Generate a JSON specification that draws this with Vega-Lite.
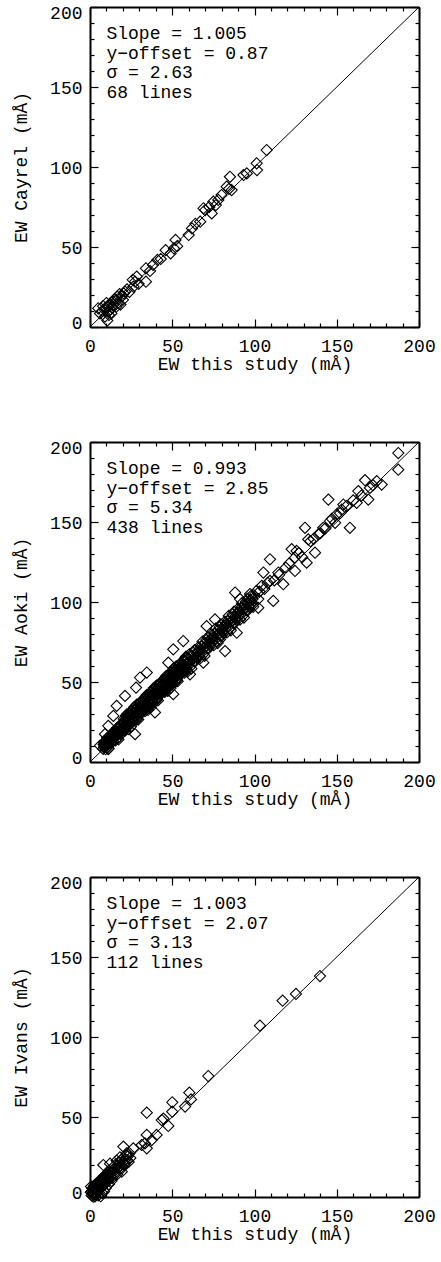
{
"$schema": "https://vega.github.io/schema/vega-lite/v6.json",
"background": "white",
"padding": {"left": 12, "top": 3, "right": 0, "bottom": 0},
"spacing": 115,
"bounds": "flush",
"datasets": {
"cayrel": [
{"x":107.4,"y":110.6},{"x":101.3,"y":102.3},{"x":101.5,"y":98.1},{"x":95.3,"y":96.0},{"x":93.3,"y":95.0},{"x":85.1,"y":93.9},{"x":86.1,"y":85.6},{"x":83.1,"y":87.7},{"x":84.5,"y":86.3},{"x":80.0,"y":82.5},
{"x":78.0,"y":79.4},{"x":75.0,"y":78.3},{"x":76.5,"y":76.2},{"x":70.0,"y":73.1},{"x":69.0,"y":74.2},{"x":74.0,"y":71.0},{"x":72.5,"y":75.0},{"x":67.0,"y":65.8},{"x":62.0,"y":61.6},{"x":60.0,"y":57.5},
{"x":52.0,"y":54.4},{"x":51.0,"y":49.2},{"x":49.0,"y":46.0},{"x":46.0,"y":48.0},{"x":53.0,"y":50.5},{"x":41.0,"y":41.9},{"x":38.3,"y":38.8},{"x":34.0,"y":36.7},{"x":34.0,"y":28.3},{"x":28.4,"y":31.5},
{"x":27.4,"y":28.3},{"x":26.4,"y":25.2},{"x":29.5,"y":27.0},{"x":21.3,"y":22.1},{"x":19.3,"y":19.0},{"x":16.2,"y":16.9},{"x":14.2,"y":13.8},{"x":11.2,"y":12.7},{"x":9.1,"y":10.6},{"x":6.1,"y":8.5},
{"x":5.0,"y":11.7},{"x":9.1,"y":6.5},{"x":10.0,"y":15.0},{"x":17.0,"y":15.0},{"x":16.0,"y":12.7},{"x":13.0,"y":8.5},{"x":8.0,"y":13.0},{"x":11.0,"y":9.5},{"x":12.5,"y":11.0},{"x":15.0,"y":17.5},
{"x":18.0,"y":20.5},{"x":20.0,"y":17.0},{"x":22.5,"y":23.5},{"x":18.5,"y":14.0},{"x":14.0,"y":16.0},{"x":10.5,"y":4.0},{"x":7.5,"y":10.0},{"x":12.0,"y":14.5},{"x":24.0,"y":22.0},{"x":26.0,"y":29.5},
{"x":20.5,"y":21.0},{"x":16.5,"y":19.0},{"x":9.5,"y":12.0},{"x":11.5,"y":7.5},{"x":13.5,"y":12.0},{"x":43.0,"y":42.5},{"x":36.5,"y":35.0},{"x":64.0,"y":64.5}
],
"aoki": [
{"x":8.0,"y":8.2},{"x":8.3,"y":11.0},{"x":8.6,"y":12.4},{"x":8.9,"y":9.6},{"x":9.2,"y":11.2},{"x":9.5,"y":8.0},{"x":9.8,"y":13.1},{"x":10.1,"y":10.4},{"x":10.4,"y":15.0},{"x":10.7,"y":9.5},
{"x":11.0,"y":12.6},{"x":11.3,"y":8.4},{"x":11.6,"y":14.4},{"x":11.9,"y":12.7},{"x":12.2,"y":16.1},{"x":12.5,"y":11.7},{"x":12.8,"y":17.0},{"x":13.1,"y":12.1},{"x":13.4,"y":15.0},{"x":13.7,"y":14.2},
{"x":14.0,"y":13.0},{"x":14.3,"y":17.1},{"x":14.6,"y":19.0},{"x":14.9,"y":15.5},{"x":15.2,"y":17.3},{"x":15.5,"y":13.5},{"x":15.8,"y":19.4},{"x":16.1,"y":16.2},{"x":16.4,"y":21.1},{"x":16.7,"y":14.9},
{"x":17.0,"y":18.4},{"x":17.3,"y":14.1},{"x":17.6,"y":20.9},{"x":17.9,"y":18.6},{"x":18.2,"y":22.0},{"x":18.5,"y":17.9},{"x":18.8,"y":23.6},{"x":19.1,"y":17.6},{"x":19.4,"y":21.2},{"x":19.7,"y":20.3},
{"x":9.0,"y":10.5},{"x":10.0,"y":11.8},{"x":11.0,"y":11.0},{"x":12.0,"y":13.5},{"x":13.0,"y":14.4},{"x":14.0,"y":15.8},{"x":15.0,"y":16.0},{"x":16.0,"y":18.5},{"x":17.0,"y":17.6},{"x":18.0,"y":19.8},
{"x":19.0,"y":20.4},{"x":20.0,"y":21.7},{"x":8.5,"y":9.3},{"x":10.5,"y":12.2},{"x":12.5,"y":14.0},{"x":14.5,"y":16.6},{"x":16.5,"y":17.2},{"x":18.5,"y":20.1},{"x":9.4,"y":12.9},{"x":11.4,"y":13.6},
{"x":20.0,"y":20.0},{"x":20.3,"y":24.5},{"x":20.6,"y":26.9},{"x":20.9,"y":22.7},{"x":21.2,"y":24.7},{"x":21.5,"y":19.8},{"x":21.8,"y":26.9},{"x":22.1,"y":23.0},{"x":22.4,"y":29.8},{"x":22.7,"y":21.8},
{"x":23.0,"y":25.7},{"x":23.3,"y":20.5},{"x":23.6,"y":28.4},{"x":23.9,"y":25.9},{"x":24.2,"y":30.2},{"x":24.5,"y":24.8},{"x":24.8,"y":31.7},{"x":25.1,"y":24.5},{"x":25.4,"y":28.6},{"x":25.7,"y":27.0},
{"x":26.0,"y":26.0},{"x":26.3,"y":30.5},{"x":26.6,"y":32.9},{"x":26.9,"y":28.7},{"x":27.2,"y":30.7},{"x":27.5,"y":25.8},{"x":27.8,"y":32.9},{"x":28.1,"y":29.0},{"x":28.4,"y":35.8},{"x":28.7,"y":27.8},
{"x":29.0,"y":31.7},{"x":29.3,"y":26.5},{"x":29.6,"y":34.4},{"x":29.9,"y":31.9},{"x":30.2,"y":36.2},{"x":30.5,"y":30.8},{"x":30.8,"y":37.7},{"x":31.1,"y":30.5},{"x":31.4,"y":34.6},{"x":31.7,"y":33.0},
{"x":32.0,"y":32.0},{"x":32.3,"y":36.5},{"x":32.6,"y":38.9},{"x":32.9,"y":34.7},{"x":33.2,"y":36.7},{"x":33.5,"y":31.8},{"x":33.8,"y":38.9},{"x":34.1,"y":35.0},{"x":34.4,"y":41.8},{"x":34.7,"y":33.8},
{"x":35.0,"y":37.7},{"x":35.3,"y":32.5},{"x":35.6,"y":40.4},{"x":35.9,"y":37.9},{"x":36.2,"y":42.2},{"x":36.5,"y":36.8},{"x":36.8,"y":43.7},{"x":37.1,"y":36.5},{"x":37.4,"y":40.6},{"x":37.7,"y":39.0},
{"x":38.0,"y":38.0},{"x":38.3,"y":42.5},{"x":38.6,"y":44.9},{"x":38.9,"y":40.7},{"x":39.2,"y":42.7},{"x":39.5,"y":37.8},{"x":39.8,"y":44.9},{"x":40.1,"y":41.0},{"x":40.4,"y":47.8},{"x":40.7,"y":39.8},
{"x":41.0,"y":43.7},{"x":41.3,"y":38.5},{"x":41.6,"y":46.4},{"x":41.9,"y":43.9},{"x":42.2,"y":48.2},{"x":42.5,"y":42.8},{"x":42.8,"y":49.7},{"x":43.1,"y":42.5},{"x":43.4,"y":46.6},{"x":43.7,"y":45.0},
{"x":44.0,"y":44.0},{"x":44.3,"y":48.5},{"x":44.6,"y":50.9},{"x":44.9,"y":46.7},{"x":45.2,"y":48.7},{"x":45.5,"y":43.8},{"x":45.8,"y":50.9},{"x":46.1,"y":47.0},{"x":46.4,"y":53.8},{"x":46.7,"y":45.8},
{"x":47.0,"y":49.7},{"x":47.3,"y":44.5},{"x":47.6,"y":52.4},{"x":47.9,"y":49.9},{"x":48.2,"y":54.2},{"x":48.5,"y":48.8},{"x":48.8,"y":55.7},{"x":49.1,"y":48.5},{"x":49.4,"y":52.6},{"x":49.7,"y":51.0},
{"x":50.0,"y":50.0},{"x":50.3,"y":54.5},{"x":50.6,"y":56.9},{"x":50.9,"y":52.7},{"x":51.2,"y":54.7},{"x":51.5,"y":49.8},{"x":51.8,"y":56.9},{"x":52.1,"y":53.0},{"x":52.4,"y":59.8},{"x":52.7,"y":51.8},
{"x":53.0,"y":55.7},{"x":53.3,"y":50.5},{"x":53.6,"y":58.4},{"x":53.9,"y":55.9},{"x":54.2,"y":60.2},{"x":54.5,"y":54.8},{"x":54.8,"y":61.7},{"x":55.1,"y":54.5},{"x":55.4,"y":58.6},{"x":55.7,"y":57.0},
{"x":56.0,"y":56.0},{"x":56.3,"y":60.5},{"x":56.6,"y":62.9},{"x":56.9,"y":58.7},{"x":57.2,"y":60.7},{"x":57.5,"y":55.8},{"x":57.8,"y":62.9},{"x":58.1,"y":59.0},{"x":58.4,"y":65.8},{"x":58.7,"y":57.8},
{"x":59.0,"y":61.7},{"x":59.3,"y":56.5},{"x":59.6,"y":64.4},{"x":59.9,"y":61.9},
{"x":20.15,"y":21.5},{"x":20.75,"y":24.0},{"x":21.35,"y":20.8},{"x":21.95,"y":28.9},{"x":22.55,"y":22.9},{"x":23.15,"y":29.2},{"x":23.75,"y":25.8},{"x":24.35,"y":29.2},{"x":24.95,"y":22.2},{"x":25.55,"y":28.3},
{"x":26.15,"y":25.3},{"x":26.75,"y":34.2},{"x":27.35,"y":28.3},{"x":27.95,"y":33.1},{"x":28.55,"y":26.9},{"x":29.15,"y":32.7},{"x":29.75,"y":31.6},{"x":30.35,"y":36.7},{"x":30.95,"y":35.2},{"x":31.55,"y":31.6},
{"x":32.15,"y":33.5},{"x":32.75,"y":36.0},{"x":33.35,"y":32.8},{"x":33.95,"y":40.9},{"x":34.55,"y":34.9},{"x":35.15,"y":41.2},{"x":35.75,"y":37.8},{"x":36.35,"y":41.2},{"x":36.95,"y":34.2},{"x":37.55,"y":40.3},
{"x":38.15,"y":37.3},{"x":38.75,"y":46.2},{"x":39.35,"y":40.3},{"x":39.95,"y":45.1},{"x":40.55,"y":38.9},{"x":41.15,"y":44.7},{"x":41.75,"y":43.6},{"x":42.35,"y":48.7},{"x":42.95,"y":47.2},{"x":43.55,"y":43.6},
{"x":44.15,"y":45.5},{"x":44.75,"y":48.0},{"x":45.35,"y":44.8},{"x":45.95,"y":52.9},{"x":46.55,"y":46.9},{"x":47.15,"y":53.2},{"x":47.75,"y":49.8},{"x":48.35,"y":53.2},{"x":48.95,"y":46.2},{"x":49.55,"y":52.3},
{"x":50.15,"y":49.3},{"x":50.75,"y":58.2},{"x":51.35,"y":52.3},{"x":51.95,"y":57.1},{"x":52.55,"y":50.9},{"x":53.15,"y":56.7},{"x":53.75,"y":55.6},{"x":54.35,"y":60.7},{"x":54.95,"y":59.2},{"x":55.55,"y":55.6},
{"x":56.15,"y":57.5},{"x":56.75,"y":60.0},{"x":57.35,"y":56.8},{"x":57.95,"y":64.9},{"x":58.55,"y":58.9},{"x":59.15,"y":65.2},
{"x":60.0,"y":60.4},{"x":60.4,"y":67.3},{"x":60.8,"y":59.4},{"x":61.2,"y":63.4},{"x":61.6,"y":58.3},{"x":62.0,"y":66.3},{"x":62.4,"y":63.9},{"x":62.8,"y":68.3},{"x":63.2,"y":63.0},{"x":63.6,"y":70.0},
{"x":64.0,"y":62.9},{"x":64.4,"y":67.1},{"x":64.8,"y":65.6},{"x":65.2,"y":64.7},{"x":65.6,"y":69.3},{"x":66.0,"y":71.8},{"x":66.4,"y":67.7},{"x":66.8,"y":69.8},{"x":67.2,"y":65.0},{"x":67.6,"y":72.2},
{"x":68.0,"y":68.4},{"x":68.4,"y":75.3},{"x":68.8,"y":67.4},{"x":69.2,"y":71.4},{"x":69.6,"y":66.3},{"x":70.0,"y":74.3},{"x":70.4,"y":71.9},{"x":70.8,"y":76.3},{"x":71.2,"y":71.0},{"x":71.6,"y":78.0},
{"x":72.0,"y":70.9},{"x":72.4,"y":75.1},{"x":72.8,"y":73.6},{"x":73.2,"y":72.7},{"x":73.6,"y":77.3},{"x":74.0,"y":79.8},{"x":74.4,"y":75.7},{"x":74.8,"y":77.8},{"x":75.2,"y":73.0},{"x":75.6,"y":80.2},
{"x":76.0,"y":76.4},{"x":76.4,"y":83.3},{"x":76.8,"y":75.4},{"x":77.2,"y":79.4},{"x":77.6,"y":74.3},{"x":78.0,"y":82.3},{"x":78.4,"y":79.9},{"x":78.8,"y":84.3},{"x":79.2,"y":79.0},{"x":79.6,"y":86.0},
{"x":80.0,"y":78.9},{"x":80.4,"y":83.1},{"x":80.8,"y":81.6},{"x":81.2,"y":80.7},{"x":81.6,"y":85.3},{"x":82.0,"y":87.8},{"x":82.4,"y":83.7},{"x":82.8,"y":85.8},{"x":83.2,"y":81.0},{"x":83.6,"y":88.2},
{"x":84.0,"y":84.4},{"x":84.4,"y":91.3},{"x":84.8,"y":83.4},{"x":85.2,"y":87.4},{"x":85.6,"y":82.3},{"x":86.0,"y":90.3},{"x":86.4,"y":87.9},{"x":86.8,"y":92.3},{"x":87.2,"y":87.0},{"x":87.6,"y":94.0},
{"x":88.0,"y":86.9},{"x":88.4,"y":91.1},{"x":88.8,"y":89.6},{"x":89.2,"y":88.7},{"x":89.6,"y":93.3},{"x":90.0,"y":95.8},{"x":90.4,"y":91.7},{"x":90.8,"y":93.8},{"x":91.2,"y":89.0},{"x":91.6,"y":96.2},
{"x":92.0,"y":92.4},{"x":92.4,"y":99.3},{"x":92.8,"y":91.4},{"x":93.2,"y":95.4},{"x":93.6,"y":90.3},{"x":94.0,"y":98.3},{"x":94.4,"y":95.9},{"x":94.8,"y":100.3},{"x":95.2,"y":95.0},{"x":95.6,"y":102.0},
{"x":96.0,"y":94.9},{"x":96.4,"y":99.1},{"x":96.8,"y":97.6},{"x":97.2,"y":96.7},{"x":97.6,"y":101.3},{"x":98.0,"y":103.8},{"x":98.4,"y":99.7},{"x":98.8,"y":101.8},{"x":99.2,"y":97.0},{"x":99.6,"y":104.2},
{"x":187.4,"y":193.1},{"x":187.4,"y":182.7},{"x":177.3,"y":173.4},{"x":174.3,"y":175.5},{"x":167.2,"y":176.1},{"x":170.2,"y":171.3},{"x":169.2,"y":164.0},{"x":163.1,"y":169.3},{"x":162.1,"y":162.0},{"x":144.9,"y":164.0},
{"x":158.0,"y":146.4},{"x":154.0,"y":160.9},{"x":153.0,"y":157.8},{"x":150.0,"y":154.7},{"x":145.9,"y":150.6},{"x":141.8,"y":146.4},{"x":138.8,"y":142.3},{"x":130.7,"y":146.4},{"x":132.7,"y":139.1},{"x":136.8,"y":130.8},
{"x":131.7,"y":124.6},{"x":125.6,"y":131.9},{"x":122.6,"y":133.0},{"x":124.6,"y":127.8},{"x":124.6,"y":119.4},{"x":109.4,"y":126.7},{"x":117.5,"y":111.1},{"x":111.4,"y":100.7},{"x":105.4,"y":118.4},{"x":114.5,"y":118.4},
{"x":109.4,"y":113.2},{"x":104.4,"y":110.1},{"x":101.3,"y":107.0},{"x":97.3,"y":105.0},{"x":91.2,"y":101.8},{"x":88.2,"y":105.9},{"x":99.3,"y":98.7},{"x":102.3,"y":101.8},
{"x":102.3,"y":96.4},{"x":89.2,"y":80.8},{"x":82.1,"y":69.3},{"x":70.9,"y":84.9},{"x":76.0,"y":89.1},{"x":68.9,"y":62.1},{"x":56.7,"y":75.6},{"x":50.6,"y":70.4},{"x":60.8,"y":54.8},{"x":50.6,"y":42.4},
{"x":47.6,"y":62.1},{"x":34.5,"y":55.9},{"x":30.4,"y":52.8},{"x":39.5,"y":31.0},{"x":28.0,"y":46.5},{"x":21.3,"y":41.3},{"x":16.2,"y":35.1},{"x":14.2,"y":28.8},{"x":11.1,"y":22.6},{"x":27.4,"y":17.4},
{"x":9.1,"y":17.4},{"x":6.1,"y":10.2},{"x":11.1,"y":8.1},{"x":79.0,"y":76.6},
{"x":103.0,"y":106.5},{"x":106.0,"y":108.2},{"x":108.0,"y":112.0},{"x":112.0,"y":113.5},{"x":115.0,"y":117.0},{"x":119.0,"y":121.5},{"x":121.0,"y":124.0},{"x":127.0,"y":130.5},{"x":129.0,"y":128.0},{"x":134.0,"y":138.0},
{"x":136.0,"y":139.5},{"x":140.0,"y":143.0},{"x":143.0,"y":146.0},{"x":147.0,"y":152.0},{"x":149.0,"y":149.5},{"x":152.0,"y":155.5},{"x":156.0,"y":160.0},{"x":160.0,"y":163.5},{"x":165.0,"y":166.5},{"x":172.0,"y":173.0}
],
"ivans": [
{"x":139.8,"y":138.1},{"x":125.2,"y":126.9},{"x":117.1,"y":122.7},{"x":103.3,"y":107.1},{"x":71.9,"y":75.6},{"x":60.4,"y":65.2},{"x":61.4,"y":61.0},{"x":57.8,"y":56.5},{"x":50.0,"y":59.2},{"x":50.0,"y":53.3},
{"x":34.5,"y":52.7},{"x":43.6,"y":48.1},{"x":47.6,"y":44.4},{"x":44.6,"y":49.0},{"x":34.5,"y":38.8},{"x":40.5,"y":38.8},{"x":37.5,"y":35.6},{"x":34.5,"y":30.4},{"x":31.4,"y":32.5},{"x":33.4,"y":33.5},
{"x":20.3,"y":31.5},{"x":26.3,"y":30.4},{"x":22.3,"y":27.3},{"x":8.1,"y":20.0},{"x":12.2,"y":20.8},{"x":16.2,"y":22.7},{"x":18.2,"y":24.8},{"x":19.3,"y":15.8},
{"x":1.0,"y":1.0},{"x":1.2,"y":3.5},{"x":1.4,"y":5.4},{"x":1.6,"y":2.7},{"x":1.8,"y":4.5},{"x":2.0,"y":1.3},{"x":2.2,"y":5.6},{"x":2.4,"y":3.0},{"x":2.6,"y":7.2},{"x":2.8,"y":2.5},
{"x":3.0,"y":4.8},{"x":3.2,"y":1.9},{"x":3.4,"y":6.4},{"x":3.6,"y":4.9},{"x":3.8,"y":7.5},{"x":4.0,"y":4.3},{"x":4.2,"y":8.5},{"x":4.4,"y":3.9},{"x":4.6,"y":6.7},{"x":4.8,"y":5.6},
{"x":5.0,"y":5.0},{"x":5.2,"y":7.5},{"x":5.4,"y":9.4},{"x":5.6,"y":6.7},{"x":5.8,"y":8.5},{"x":6.0,"y":5.3},{"x":6.2,"y":9.6},{"x":6.4,"y":7.0},{"x":6.6,"y":11.2},{"x":6.8,"y":6.5},
{"x":7.0,"y":8.8},{"x":7.2,"y":5.9},{"x":7.4,"y":10.4},{"x":7.6,"y":8.9},{"x":7.8,"y":11.5},{"x":8.0,"y":8.3},{"x":8.2,"y":12.5},{"x":8.4,"y":7.9},{"x":8.6,"y":10.7},{"x":8.8,"y":9.6},
{"x":9.0,"y":9.0},{"x":9.2,"y":11.5},{"x":9.4,"y":13.4},{"x":9.6,"y":10.7},{"x":9.8,"y":12.5},{"x":10.0,"y":9.3},{"x":10.2,"y":13.6},{"x":10.4,"y":11.0},{"x":10.6,"y":15.2},{"x":10.8,"y":10.5},
{"x":11.0,"y":10.2},{"x":11.5,"y":13.5},{"x":12.0,"y":16.0},{"x":12.5,"y":13.0},{"x":13.0,"y":15.4},{"x":13.5,"y":11.9},{"x":14.0,"y":17.3},{"x":14.5,"y":14.4},{"x":15.0,"y":19.7},{"x":15.5,"y":14.3},
{"x":16.0,"y":17.4},{"x":16.5,"y":14.1},{"x":17.0,"y":19.8},{"x":17.5,"y":18.3},{"x":18.0,"y":21.6},{"x":18.5,"y":18.1},{"x":19.0,"y":23.4},{"x":19.5,"y":18.1},{"x":20.0,"y":21.7},{"x":20.5,"y":20.7},
{"x":21.0,"y":20.2},{"x":21.5,"y":23.5},{"x":22.0,"y":26.0},{"x":22.5,"y":23.0},{"x":23.0,"y":25.4},{"x":23.5,"y":21.9},{"x":24.0,"y":27.3},{"x":24.5,"y":24.4},
{"x":5.0,"y":1.0},{"x":6.5,"y":0.5},{"x":7.5,"y":2.5},{"x":3.0,"y":0.4},{"x":8.5,"y":3.5},{"x":4.0,"y":2.0},{"x":2.0,"y":0.2},{"x":0.5,"y":3.0},{"x":0.6,"y":6.5},{"x":9.5,"y":5.5},
{"x":11.5,"y":8.0},{"x":13.0,"y":10.0}
]
},
"vconcat": [
{
"width": 329, "height": 320,
"resolve": {"axis": {"x": "independent", "y": "independent"}},
"layer": [
{"data": {"name": "cayrel"},
 "mark": {"type": "point", "shape": "diamond", "filled": false, "color": "black", "strokeWidth": 1.1, "size": 125, "opacity": 1},
 "encoding": {
  "x": {"field": "x", "type": "quantitative", "scale": {"domain": [0, 200], "nice": false, "zero": false},
   "axis": {"orient": "bottom", "values": [0,10,20,30,40,50,60,70,80,90,100,110,120,130,140,150,160,170,180,190,200], "labelExpr": "datum.value % 50 === 0 ? datum.label : ''", "tickSize": {"condition": {"test": "datum.value % 50 === 0", "value": -8}, "value": -4}, "labelPadding": 18, "title": "EW this study (mÅ)", "titlePadding": -4}},
  "y": {"field": "y", "type": "quantitative", "scale": {"domain": [0, 200], "nice": false, "zero": false},
   "axis": {"orient": "left", "values": [0,10,20,30,40,50,60,70,80,90,100,110,120,130,140,150,160,170,180,190,200], "labelExpr": "datum.value % 50 === 0 ? datum.label : ''", "tickSize": {"condition": {"test": "datum.value % 50 === 0", "value": -8}, "value": -4}, "labelOffset": {"condition": [{"test": "datum.value === 200", "value": 6}, {"test": "datum.value === 0", "value": -4}], "value": 1}, "labelPadding": 16, "title": "EW Cayrel (mÅ)", "titlePadding": 19}}
 }},
{"data": {"values": [{"x": 0, "y": 0}, {"x": 200, "y": 200}]},
 "mark": {"type": "line", "color": "black", "strokeWidth": 1},
 "encoding": {
  "x": {"field": "x", "type": "quantitative", "axis": {"orient": "top", "values": [0,10,20,30,40,50,60,70,80,90,100,110,120,130,140,150,160,170,180,190,200], "labels": false, "title": null, "tickSize": {"condition": {"test": "datum.value % 50 === 0", "value": -8}, "value": -4}}},
  "y": {"field": "y", "type": "quantitative", "axis": {"orient": "right", "values": [0,10,20,30,40,50,60,70,80,90,100,110,120,130,140,150,160,170,180,190,200], "labels": false, "title": null, "tickSize": {"condition": {"test": "datum.value % 50 === 0", "value": -8}, "value": -4}}}
 }},
{"data": {"values": [{"lines": ["Slope = 1.005", "y−offset = 0.87", "σ = 2.63", "68 lines"]}]},
 "mark": {"type": "text", "align": "left", "baseline": "alphabetic", "font": "Liberation Mono", "fontSize": 18, "lineHeight": 19.5, "color": "black"},
 "encoding": {"x": {"datum": 10, "type": "quantitative", "axis": null}, "y": {"datum": 180, "type": "quantitative", "axis": null}, "text": {"field": "lines"}}}
]
},
{
"width": 329, "height": 320,
"resolve": {"axis": {"x": "independent", "y": "independent"}},
"layer": [
{"data": {"name": "aoki"},
 "mark": {"type": "point", "shape": "diamond", "filled": false, "color": "black", "strokeWidth": 1.1, "size": 125, "opacity": 1},
 "encoding": {
  "x": {"field": "x", "type": "quantitative", "scale": {"domain": [0, 200], "nice": false, "zero": false},
   "axis": {"orient": "bottom", "values": [0,10,20,30,40,50,60,70,80,90,100,110,120,130,140,150,160,170,180,190,200], "labelExpr": "datum.value % 50 === 0 ? datum.label : ''", "tickSize": {"condition": {"test": "datum.value % 50 === 0", "value": -8}, "value": -4}, "labelPadding": 18, "title": "EW this study (mÅ)", "titlePadding": -4}},
  "y": {"field": "y", "type": "quantitative", "scale": {"domain": [0, 200], "nice": false, "zero": false},
   "axis": {"orient": "left", "values": [0,10,20,30,40,50,60,70,80,90,100,110,120,130,140,150,160,170,180,190,200], "labelExpr": "datum.value % 50 === 0 ? datum.label : ''", "tickSize": {"condition": {"test": "datum.value % 50 === 0", "value": -8}, "value": -4}, "labelOffset": {"condition": [{"test": "datum.value === 200", "value": 6}, {"test": "datum.value === 0", "value": -4}], "value": 1}, "labelPadding": 16, "title": "EW Aoki (mÅ)", "titlePadding": 19}}
 }},
{"data": {"values": [{"x": 0, "y": 0}, {"x": 200, "y": 200}]},
 "mark": {"type": "line", "color": "black", "strokeWidth": 1},
 "encoding": {
  "x": {"field": "x", "type": "quantitative", "axis": {"orient": "top", "values": [0,10,20,30,40,50,60,70,80,90,100,110,120,130,140,150,160,170,180,190,200], "labels": false, "title": null, "tickSize": {"condition": {"test": "datum.value % 50 === 0", "value": -8}, "value": -4}}},
  "y": {"field": "y", "type": "quantitative", "axis": {"orient": "right", "values": [0,10,20,30,40,50,60,70,80,90,100,110,120,130,140,150,160,170,180,190,200], "labels": false, "title": null, "tickSize": {"condition": {"test": "datum.value % 50 === 0", "value": -8}, "value": -4}}}
 }},
{"data": {"values": [{"lines": ["Slope = 0.993", "y−offset = 2.85", "σ = 5.34", "438 lines"]}]},
 "mark": {"type": "text", "align": "left", "baseline": "alphabetic", "font": "Liberation Mono", "fontSize": 18, "lineHeight": 19.5, "color": "black"},
 "encoding": {"x": {"datum": 10, "type": "quantitative", "axis": null}, "y": {"datum": 180, "type": "quantitative", "axis": null}, "text": {"field": "lines"}}}
]
},
{
"width": 329, "height": 320,
"resolve": {"axis": {"x": "independent", "y": "independent"}},
"layer": [
{"data": {"name": "ivans"},
 "mark": {"type": "point", "shape": "diamond", "filled": false, "color": "black", "strokeWidth": 1.1, "size": 125, "opacity": 1},
 "encoding": {
  "x": {"field": "x", "type": "quantitative", "scale": {"domain": [0, 200], "nice": false, "zero": false},
   "axis": {"orient": "bottom", "values": [0,10,20,30,40,50,60,70,80,90,100,110,120,130,140,150,160,170,180,190,200], "labelExpr": "datum.value % 50 === 0 ? datum.label : ''", "tickSize": {"condition": {"test": "datum.value % 50 === 0", "value": -8}, "value": -4}, "labelPadding": 18, "title": "EW this study (mÅ)", "titlePadding": -4}},
  "y": {"field": "y", "type": "quantitative", "scale": {"domain": [0, 200], "nice": false, "zero": false},
   "axis": {"orient": "left", "values": [0,10,20,30,40,50,60,70,80,90,100,110,120,130,140,150,160,170,180,190,200], "labelExpr": "datum.value % 50 === 0 ? datum.label : ''", "tickSize": {"condition": {"test": "datum.value % 50 === 0", "value": -8}, "value": -4}, "labelOffset": {"condition": [{"test": "datum.value === 200", "value": 6}, {"test": "datum.value === 0", "value": -4}], "value": 1}, "labelPadding": 16, "title": "EW Ivans (mÅ)", "titlePadding": 19}}
 }},
{"data": {"values": [{"x": 0, "y": 0}, {"x": 200, "y": 200}]},
 "mark": {"type": "line", "color": "black", "strokeWidth": 1},
 "encoding": {
  "x": {"field": "x", "type": "quantitative", "axis": {"orient": "top", "values": [0,10,20,30,40,50,60,70,80,90,100,110,120,130,140,150,160,170,180,190,200], "labels": false, "title": null, "tickSize": {"condition": {"test": "datum.value % 50 === 0", "value": -8}, "value": -4}}},
  "y": {"field": "y", "type": "quantitative", "axis": {"orient": "right", "values": [0,10,20,30,40,50,60,70,80,90,100,110,120,130,140,150,160,170,180,190,200], "labels": false, "title": null, "tickSize": {"condition": {"test": "datum.value % 50 === 0", "value": -8}, "value": -4}}}
 }},
{"data": {"values": [{"lines": ["Slope = 1.003", "y−offset = 2.07", "σ = 3.13", "112 lines"]}]},
 "mark": {"type": "text", "align": "left", "baseline": "alphabetic", "font": "Liberation Mono", "fontSize": 18, "lineHeight": 19.5, "color": "black"},
 "encoding": {"x": {"datum": 10, "type": "quantitative", "axis": null}, "y": {"datum": 180, "type": "quantitative", "axis": null}, "text": {"field": "lines"}}}
]
}
],
"config": {
 "font": "Liberation Mono",
 "view": {"stroke": "black", "strokeWidth": 1},
 "axis": {"domainColor": "black", "domainWidth": 2, "tickColor": "black", "tickWidth": 1.2, "labelColor": "black", "labelFont": "Liberation Mono", "labelFontSize": 18, "titleFont": "Liberation Mono", "titleFontSize": 18, "titleFontWeight": "normal", "titleColor": "black", "grid": false, "labelOverlap": false, "labelFlush": false, "labelBound": false}
}
}
